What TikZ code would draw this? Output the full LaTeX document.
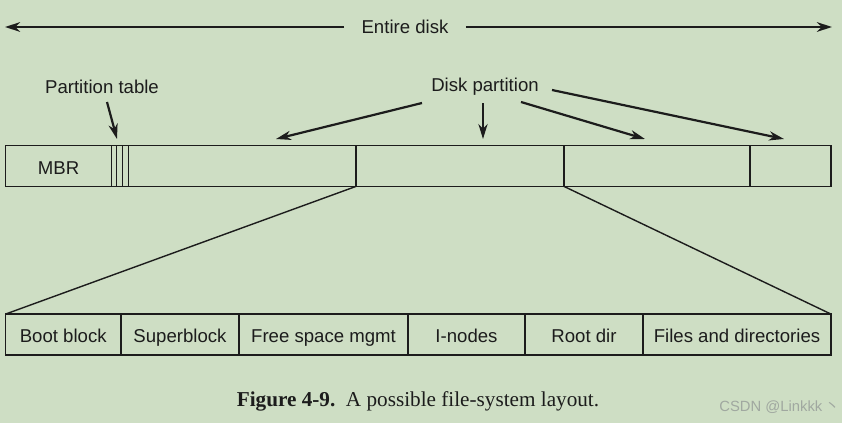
\documentclass[tikz,border=0pt]{standalone}
\usepackage{fontspec}
\setmainfont{Liberation Serif}
\setsansfont{Liberation Sans}
\newfontfamily\cjkfont{Noto Sans CJK SC}
\usepackage{xcolor}
\usetikzlibrary{arrows.meta, positioning}

\definecolor{bgreen}{RGB}{206,222,196}
\definecolor{ink}{RGB}{28,28,28}
\definecolor{wmark}{RGB}{160,168,160}

\begin{document}
\begin{tikzpicture}[
    x=0.5pt, y=-0.5pt,
    font=\sffamily\fontsize{9.3}{11}\selectfont,
    txt/.style={text=ink, inner sep=1pt},
    cell/.style={rectangle, draw=ink, line width=0.75pt, inner sep=0pt, outer sep=0pt, minimum height=20.4pt, text height=8.6pt, text depth=0.4pt, text=ink, anchor=west},
    arrow/.style={-{Stealth[length=7.5pt, width=4.6pt, inset=2.3pt]}, line width=1.1pt, draw=ink},
    bigarrow/.style={-{Stealth[length=7.5pt, width=4.8pt, inset=2.4pt]}, line width=1.4pt, draw=ink},
    fan/.style={draw=ink, line width=0.7pt}
]

% background and page size
\fill[bgreen] (0,0) rectangle (842,423);
\useasboundingbox (0,0) rectangle (842,423);

% entire disk
\node (entire) [txt, inner xsep=8.5pt] at (405,27) {Entire disk};
\coordinate (entL) at (5,27);
\coordinate (entR) at (832,27);
\draw [bigarrow] (entire) -- (entL);
\draw [bigarrow] (entire) -- (entR);

% disk with partitions
\node (mbr) [cell, minimum width=53.1pt] at (5.5,166) {MBR};
\node (pt1) [cell, minimum width=2.5pt, right=0pt of mbr] {};
\node (pt2) [cell, minimum width=2.8pt, right=0pt of pt1] {};
\node (pt3) [cell, minimum width=3pt, right=0pt of pt2] {};
\node (part1) [cell, minimum width=113.85pt, right=0pt of pt3] {};
\node (part2) [cell, minimum width=104pt, right=0pt of part1] {};
\node (part3) [cell, minimum width=93pt, right=0pt of part2] {};
\node (part4) [cell, minimum width=40.5pt, right=0pt of part3] {};

% labels above the disk
\node (ptable) [txt] at (102,87) {Partition table};
\node (dpart) [txt] at (485,87) {Disk partition};

\coordinate (ptS) at (107,102);
\coordinate (ptT) at (117,139);
\coordinate (dp1S) at (422,103);
\coordinate (dp1T) at (276,139);
\coordinate (dp2S) at (483,103);
\coordinate (dp2T) at (483,139);
\coordinate (dp3S) at (521,102);
\coordinate (dp3T) at (645,139);
\coordinate (dp4S) at (552,90);
\coordinate (dp4T) at (784,139);

\draw [arrow] (ptS) -- (ptT);
\draw [arrow] (dp1S) -- (dp1T);
\draw [arrow] (dp2S) -- (dp2T);
\draw [arrow] (dp3S) -- (dp3T);
\draw [arrow] (dp4S) -- (dp4T);

% file-system layout of one partition
\node (boot) [cell, minimum width=57.75pt] at (5.5,334.5) {Boot block};
\node (super) [cell, minimum width=59pt, right=0pt of boot] {Superblock};
\node (free) [cell, minimum width=84.5pt, right=0pt of super] {Free space mgmt};
\node (inodes) [cell, minimum width=58.5pt, right=0pt of free] {I-nodes};
\node (root) [cell, minimum width=59pt, right=0pt of inodes] {Root dir};
\node (files) [cell, minimum width=94pt, right=0pt of root] {Files and directories};

\draw [fan] (part1.south east) -- (boot.north west);
\draw [fan] (part2.south east) -- (files.north east);

% caption and watermark
\node (caption) [txt, font=\rmfamily\fontsize{10.6}{12}\selectfont] at (418,401) {\textbf{Figure 4-9.}\ \ A possible file-system layout.};
\node (wm) [font=\sffamily\fontsize{7.4}{9}\selectfont, text=wmark, anchor=west, inner sep=0pt] at (719,407) {CSDN @Linkkk\,{\cjkfont 丶}};

\end{tikzpicture}
\end{document}
